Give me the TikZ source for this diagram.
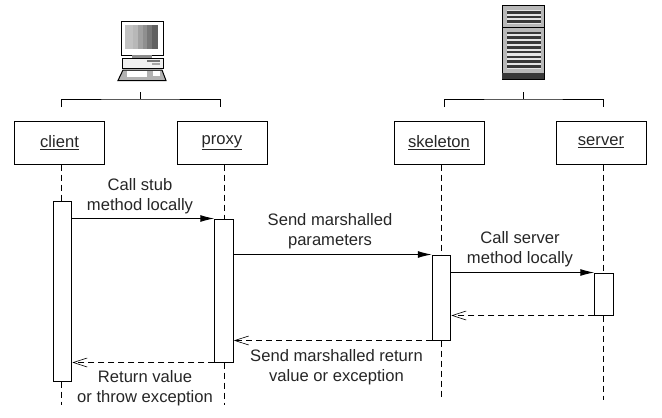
\documentclass[tikz,border=0pt]{standalone}
\usepackage{fontspec}
\setmainfont{Liberation Sans}
\usetikzlibrary{arrows.meta,calc,positioning}
\definecolor{inktext}{gray}{0.15}
\newcommand{\objname}[2]{\raisebox{#2}{\underline{#1}}}
\tikzset{
  objbox/.style = {draw, line width=1pt, minimum width=90pt, minimum height=43pt,
    inner sep=0pt, text=inktext, font=\fontsize{16.6}{18}\selectfont},
  actbar/.style = {draw, line width=1pt, fill=white, minimum width=18.5pt, inner sep=0pt},
  lifeline/.style = {line width=1pt, dash pattern=on 6pt off 4pt},
  bracket/.style = {line width=1pt},
  callmsg/.style = {line width=1pt, -{Latex[length=14pt,width=7pt]}},
  retmsg/.style = {line width=1pt, dash pattern=on 6pt off 4pt,
    -{Straight Barb[length=14pt,width=9pt,line width=0.6pt]}},
  msglabel/.style = {align=center, text=inktext, inner sep=0pt,
    font=\fontsize{16.6}{20}\selectfont}
}
\begin{document}
\begin{tikzpicture}[x=1pt,y=-1pt]
    \useasboundingbox (0,0) rectangle (662,418);
    % objects
    \node[objbox] (client) at (59.5,142.5) {\objname{client}{-1pt}};
    \node[objbox] (proxy) at (222,142.5) {\objname{proxy}{1pt}};
    \node[objbox] (skeleton) at (439,142.5) {\objname{skeleton}{-1pt}};
    \node[objbox] (server) at (601,142.5) {\objname{server}{0pt}};
    % activation bars
    \node[actbar, minimum height=180pt] (clientbar) at (62.5,291) {};
    \node[actbar, minimum height=143pt] (proxybar) at (224,290.5) {};
    \node[actbar, minimum height=85pt] (skeletonbar) at (441.5,297.5) {};
    \node[actbar, minimum height=42pt] (serverbar) at (604,294) {};
    % free ends
    \coordinate (clientend) at (61,405);
    \coordinate (proxyend) at (224,405);
    \coordinate (skeletonend) at (441.5,400);
    \coordinate (serverend) at (603,400);
    % lifelines
    \draw[lifeline] (client.south -| clientend) -- (clientbar.north -| clientend);
    \draw[lifeline] (clientbar.south -| clientend) -- (clientend);
    \draw[lifeline] (proxy.south -| proxyend) -- (proxybar.north -| proxyend);
    \draw[lifeline] (proxybar.south -| proxyend) -- (proxyend);
    \draw[lifeline] (skeleton.south -| skeletonend) -- (skeletonbar.north -| skeletonend);
    \draw[lifeline] (skeletonbar.south -| skeletonend) -- (skeletonend);
    \draw[lifeline] (server.south -| serverend) -- (serverbar.north -| serverend);
    \draw[lifeline] (serverbar.south -| serverend) -- (serverend);
    % messages
    \draw[callmsg] (clientbar.east |- proxybar.north) -- (proxybar.north west);
    \draw[callmsg] (proxybar.east |- skeletonbar.north) -- (skeletonbar.north west);
    \draw[callmsg] (skeletonbar.east |- serverbar.north) -- (serverbar.north west);
    \draw[retmsg] (serverbar.south west) -- (skeletonbar.east |- serverbar.south);
    \draw[retmsg] (skeletonbar.south west) -- (proxybar.east |- skeletonbar.south);
    \draw[retmsg] (proxybar.south west) -- (clientbar.east |- proxybar.south);
    % labels
    \node[msglabel] (stublabel) at (140,196) {Call stub\\method locally};
    \node[msglabel] (paramlabel) at (330,231) {Send marshalled\\parameters};
    \node[msglabel] (calllabel) at (520,249) {Call server\\method locally};
    \node[msglabel] (returnlabel) at (336.5,367) {Send marshalled return\\value or exception};
    \node[msglabel] (throwlabel) at (145,388) {Return value\\or throw exception};
    % brackets
    \coordinate (pcstem) at (140,92);
    \coordinate (pcleft) at (61,107);
    \coordinate (pcright) at (220,107);
    \coordinate (pcjoin) at (140,99);
    \coordinate (srvstem) at (523,92);
    \coordinate (srvleft) at (444,107);
    \coordinate (srvright) at (603,107);
    \coordinate (srvjoin) at (523,99);
    \draw[bracket] (pcstem) -- (pcjoin);
    \draw[bracket] (pcleft) |- (pcjoin) -| (pcright);
    \draw[bracket] (srvstem) -- (srvjoin);
    \draw[bracket] (srvleft) |- (srvjoin) -| (srvright);
    % computer
    \draw[line width=1pt, fill=white] (121,21) rectangle (163,55);
    \foreach \x/\w/\g in {125/8/24,133/5/28,138/5/37,143/4/44,147/5/53,152/6/62}
      \fill[black!\g] (\x,25) rectangle +(\w,24);
    \fill[black!45] (132,55) rectangle (152,58);
    \draw[line width=1pt, fill=black!6] (122,58) rectangle (163,68);
    \fill[black!55] (147,60) rectangle (160,62);
    \fill[black!35] (152,63) rectangle (160,65);
    \draw[line width=1pt, fill=black!30] (123,70) -- (162,70) -- (166,80.5) -- (118,80.5) -- cycle;
    \fill[white] (127,71) rectangle (147,77);
    \fill[white] (153,71) rectangle (160,76);
    % server box
    \draw[line width=1pt, fill=black!28] (502,5) rectangle (544,79);
    \draw[line width=1pt] (502,27) -- (544,27);
    \fill[black!78] (502,73) rectangle (544,79);
    \fill[black!10] (507,10) rectangle (541,24);
    \fill[black!10] (507,32) rectangle (541,69);
    \foreach \y/\h in {11/3,16/2,20/3,32/2,36/3,41/3,46/3,51/2,56/2,60/3,65/3}
      \fill[black!78] (507,\y) rectangle +(34,\h);
\end{tikzpicture}
\end{document}
